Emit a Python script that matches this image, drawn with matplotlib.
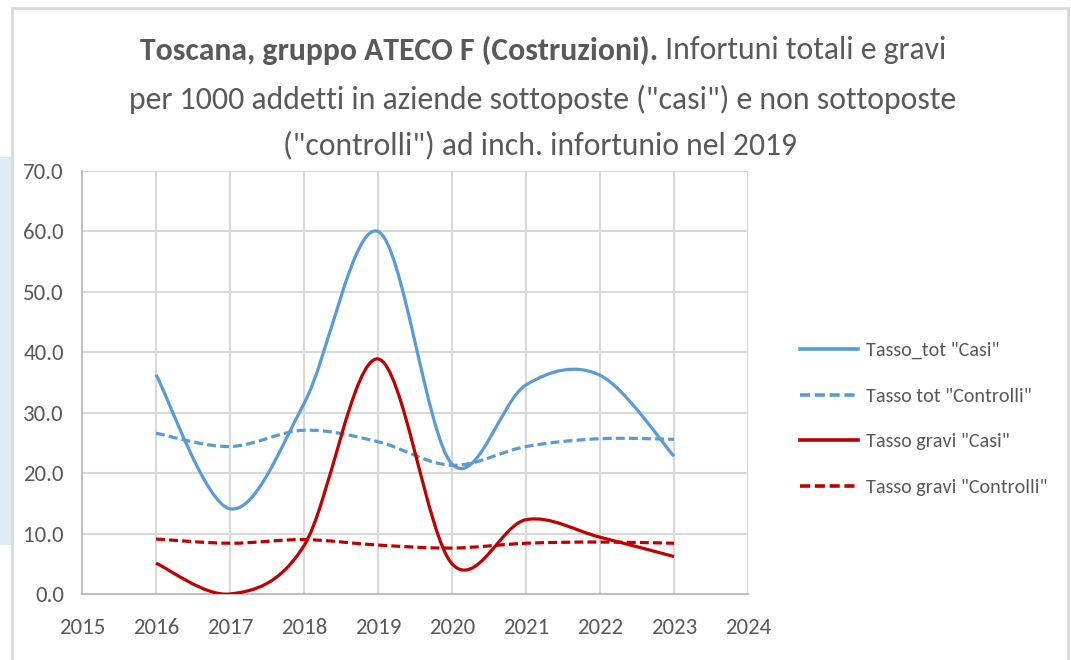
import matplotlib
matplotlib.use("Agg")
import matplotlib.pyplot as plt
from matplotlib.path import Path
from matplotlib.patches import PathPatch, Rectangle
from matplotlib.lines import Line2D
import numpy as np

plt.rcParams['font.family'] = ['Carlito', 'Liberation Sans', 'DejaVu Sans']

# ---- data ----
years = [2016, 2017, 2018, 2019, 2020, 2021, 2022, 2023]
tot_casi = [36.3, 14.1, 31.5, 60.0, 21.5, 34.6, 36.2, 22.8]
tot_controlli = [26.6, 24.4, 27.1, 25.2, 21.3, 24.4, 25.7, 25.6]
gravi_casi = [5.1, 0.0, 8.0, 38.9, 5.0, 12.3, 9.4, 6.2]
gravi_controlli = [9.1, 8.4, 9.0, 8.1, 7.6, 8.4, 8.6, 8.4]
series_labels = ['Tasso_tot "Casi"', 'Tasso tot "Controlli"',
                 'Tasso gravi "Casi"', 'Tasso gravi "Controlli"']
xticks = list(range(2015, 2025))
yticks = [0, 10, 20, 30, 40, 50, 60, 70]
title_bold = "Toscana, gruppo ATECO F (Costruzioni)."
title_rest = " Infortuni totali e gravi"
title_line2 = 'per 1000 addetti in aziende sottoposte ("casi") e non sottoposte'
title_line3 = '("controlli") ad inch. infortunio nel 2019'

BLUE = '#5B9BD5'
RED = '#C00000'
GRAY_TXT = '#595959'
GRID = '#D9D9D9'

W, H = 1071, 660
fig = plt.figure(figsize=(W / 100, H / 100), dpi=100)
fig.patch.set_facecolor('white')


def fx(px):
    return px / W


def fy(py):
    return 1 - py / H


# background decorations (chart frame and side panel)
fig.add_artist(Rectangle((0, fy(545)), fx(11), fy(157) - fy(545),
                         transform=fig.transFigure, facecolor='#DEEAF6',
                         edgecolor='none', zorder=0))
frame_kw = dict(color='#D9D9D9', lw=2.0, transform=fig.transFigure, zorder=1)
fig.add_artist(Line2D([fx(12), fx(1068)], [fy(8), fy(8)], **frame_kw))
fig.add_artist(Line2D([fx(12), fx(12)], [fy(8), 0], **frame_kw))
fig.add_artist(Line2D([fx(1068), fx(1068)], [fy(8), 0], **frame_kw))

ax = fig.add_axes([fx(82), fy(594), fx(748) - fx(82), fy(171) - fy(594)])
ax.set_xlim(2015, 2024)
ax.set_ylim(0, 70)
ax.set_xticks(xticks)
ax.set_yticks(yticks)
ax.set_xticklabels([str(t) for t in xticks])
ax.set_yticklabels([f"{t:.1f}" for t in yticks])
ax.grid(True, color=GRID, lw=1.5)
ax.set_axisbelow(True)
for s in ['top', 'right']:
    ax.spines[s].set_visible(False)
for s in ['left', 'bottom']:
    ax.spines[s].set_color('#BFBFBF')
    ax.spines[s].set_linewidth(1.5)
ax.tick_params(length=0, labelsize=16.5, colors=GRAY_TXT)
ax.tick_params(axis='y', pad=13)
ax.tick_params(axis='x', pad=17)


def smooth_path(xs, ys):
    pts = np.column_stack([xs, ys]).astype(float)
    n = len(pts)
    verts = [pts[0]]
    codes = [Path.MOVETO]
    for i in range(n - 1):
        p0 = pts[i - 1] if i > 0 else pts[i]
        p1 = pts[i]
        p2 = pts[i + 1]
        p3 = pts[i + 2] if i + 2 < n else pts[i + 1]
        c1 = p1 + (p2 - p0) / 6.0
        c2 = p2 - (p3 - p1) / 6.0
        verts += [c1, c2, p2]
        codes += [Path.CURVE4] * 3
    return Path(verts, codes)


dash = (2.8, 1.3)
styles = [
    (tot_casi, BLUE, None),
    (tot_controlli, BLUE, dash),
    (gravi_casi, RED, None),
    (gravi_controlli, RED, dash),
]
handles = []
for (vals, col, ds), lab in zip(styles, series_labels):
    patch = PathPatch(smooth_path(years, vals), facecolor='none',
                      edgecolor=col, lw=2.3, capstyle='butt', zorder=3)
    if ds is not None:
        patch.set_linestyle((0, ds))
    ax.add_patch(patch)
    h = Line2D([], [], color=col, lw=2.6,
               linestyle='-' if ds is None else (0, ds), label=lab)
    handles.append(h)

leg = fig.legend(handles=handles, loc='upper left',
                 bbox_to_anchor=(fx(792), fy(334)), frameon=False,
                 fontsize=14.5, handlelength=2.9, handletextpad=0.35,
                 labelspacing=1.41, labelcolor=GRAY_TXT, borderaxespad=0)

# ---- title ----
renderer = fig.canvas.get_renderer()


def fit(txt, target_px):
    bb = txt.get_window_extent(renderer)
    txt.set_fontsize(txt.get_fontsize() * target_px / bb.width)


t1b = fig.text(0, fy(50), title_bold, fontsize=20, fontweight='bold',
               color=GRAY_TXT, ha='left', va='center')
t1r = fig.text(0, fy(50), title_rest, fontsize=20, color=GRAY_TXT,
               ha='left', va='center')
t2 = fig.text(fx(542.5), fy(99), title_line2, fontsize=20, color=GRAY_TXT,
              ha='center', va='center')
t3 = fig.text(fx(540), fy(145), title_line3, fontsize=20, color=GRAY_TXT,
              ha='center', va='center')
fit(t2, 825)
fit(t3, 514)
fs = t2.get_fontsize()
t1b.set_fontsize(fs)
t1r.set_fontsize(fs)
wb = t1b.get_window_extent(renderer).width
wr = t1r.get_window_extent(renderer).width
start = 543.5 - (wb + wr) / 2
t1b.set_x(fx(start))
t1r.set_x(fx(start + wb))

fig.savefig('out.png', dpi=100, facecolor='white')
